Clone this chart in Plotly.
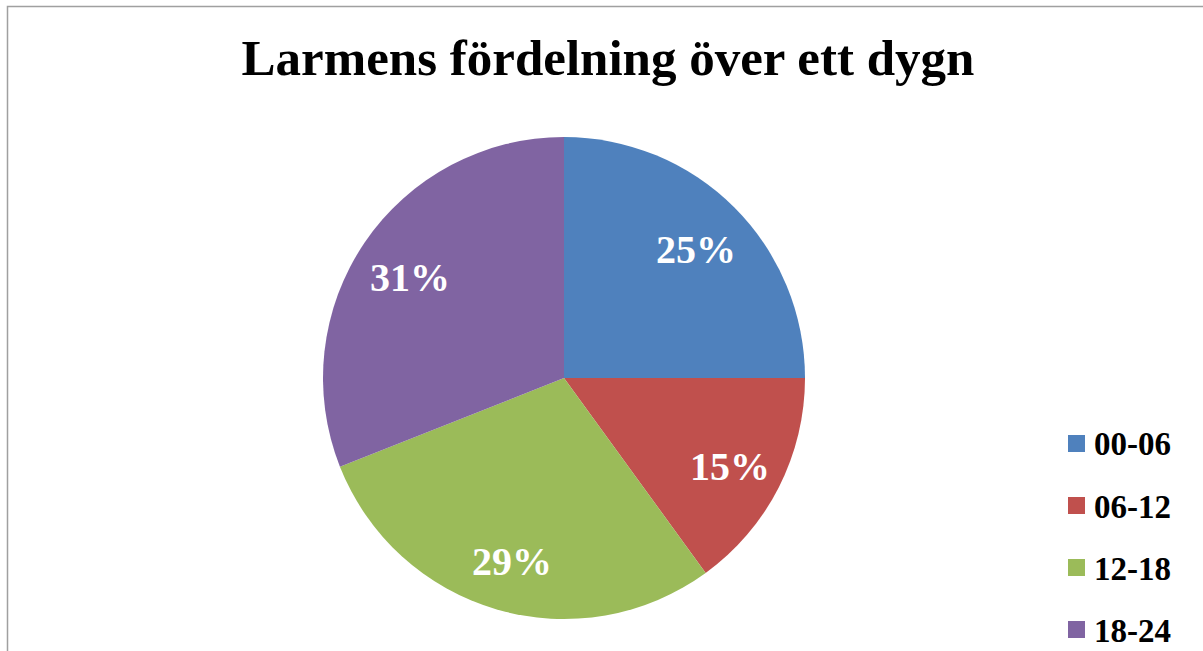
import math
import plotly.graph_objects as go

categories = ["00-06", "06-12", "12-18", "18-24"]
shares = [25, 15, 29, 31]
colors = ["#4F81BD", "#C0504D", "#9BBB59", "#8064A2"]
title_text = "Larmens fördelning över ett dygn"

W, H = 1203, 651
cx, cy, r = 564, 378, 241

fig = go.Figure(go.Pie(
    labels=categories,
    values=shares,
    sort=False,
    direction="clockwise",
    rotation=0,
    marker=dict(colors=colors, line=dict(width=0)),
    textinfo="none",
    domain=dict(x=[(cx - r) / W, (cx + r) / W], y=[(H - cy - r) / H, (H - cy + r) / H]),
    hoverinfo="label+percent",
    showlegend=False,
))

annotations = []
shapes = []

# percentage labels placed at the slice mid-angles (derived from the data)
total = sum(shares)
cum = 0
label_r = 0.775 * r
for val in shares:
    mid = (cum + val / 2) / total * 2 * math.pi
    cum += val
    px = cx + label_r * math.sin(mid)
    py = cy - label_r * math.cos(mid)
    annotations.append(dict(
        x=px / W, y=1 - py / H, xref="paper", yref="paper",
        text=f"{round(val / total * 100)}%", showarrow=False,
        xanchor="center", yanchor="middle", yshift=-4,
        font=dict(family="Liberation Serif", size=40, color="white", weight="bold"),
    ))

# legend
leg_x, leg_y0, leg_step, sw = 1068, 443.5, 62, 17
for i, (cat, col) in enumerate(zip(categories, colors)):
    yc = leg_y0 + i * leg_step
    shapes.append(dict(type="rect", xref="paper", yref="paper",
                       x0=leg_x / W, x1=(leg_x + sw) / W,
                       y0=1 - (yc + sw / 2) / H, y1=1 - (yc - sw / 2) / H,
                       fillcolor=col, line=dict(width=0)))
    annotations.append(dict(
        x=(leg_x + sw + 7) / W, y=1 - (yc + 1) / H, xref="paper", yref="paper",
        text=cat, showarrow=False, xanchor="left", yanchor="middle",
        font=dict(family="Liberation Serif", size=33, color="black", weight="bold"),
    ))

# chart border
shapes.append(dict(type="rect", xref="paper", yref="paper", x0=7.5 / W, x1=1.1, y0=-0.1, y1=1 - 6.5 / H,
                   line=dict(color="#a0a0a0", width=1.5), fillcolor="rgba(0,0,0,0)", layer="below"))

fig.update_layout(
    width=W, height=H,
    margin=dict(l=0, r=0, t=0, b=0),
    paper_bgcolor="white",
    title=dict(text=title_text, x=608 / W, xanchor="center", y=1 - 57 / H, yanchor="middle",
               font=dict(family="Liberation Serif", size=51, color="black", weight="bold")),
    annotations=annotations,
    shapes=shapes,
)

fig.write_html("out.html", config={"displayModeBar": False},
               post_script="document.body.style.margin='0';")
